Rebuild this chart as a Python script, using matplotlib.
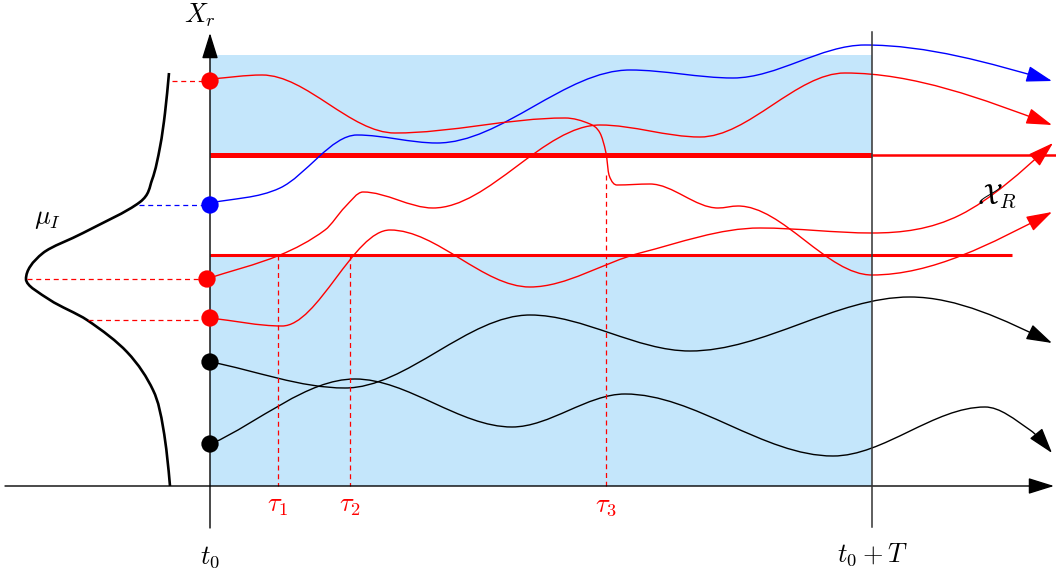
import numpy as np
import matplotlib
matplotlib.use("Agg")
import matplotlib.pyplot as plt
from matplotlib.path import Path
from matplotlib.patches import FancyArrowPatch, PathPatch

plt.rcParams['mathtext.fontset'] = 'cm'

# picture units: x = time axis (left to right), y = X_r axis (top to bottom, screen-like)
t0, t0_T = 210, 872
ground = 486
box_top = 55
band_hi, band_lo = 155, 255

RED, BLUE, BLACK = '#ff0000', '#0000ff', '#000000'
FILL = '#c4e6fb'

# trajectories: turning points (plus a few shape points) of each path
blue_t = [211, 280, 357, 437, 630, 733, 865, 1052]
blue_x = [203, 188, 135, 143, 70, 78, 45, 81]

red_a_t = [211, 262, 395, 565, 590, 600, 606, 609, 617, 650, 718, 738, 872, 1052]
red_a_x = [79, 75, 133, 118, 124, 133, 153, 175, 185, 184, 208, 206, 275, 212]

red_b_t = [206, 280, 325, 345, 363, 433, 600, 700, 845, 1052]
red_b_x = [279, 255, 230, 207, 192, 208, 125, 137, 73, 125]

red_c_t = [210, 282, 390, 530, 640, 760, 872, 960, 1053]
red_c_x = [318, 326, 230, 287, 253, 228, 233, 215, 143]

black_a_t = [211, 345, 530, 690, 910, 1052]
black_a_x = [362, 388, 315, 351, 297, 343]

black_b_t = [211, 355, 512, 625, 833, 985, 1030, 1052]
black_b_x = [444, 379, 427, 394, 456, 407, 430, 453]

# initial points on the X_r axis
start_x = [81, 205, 279, 318, 362, 444]
start_t = [210, 210, 207, 210, 210, 210]
start_col = [RED, BLUE, RED, RED, BLACK, BLACK]

# initial density mu_I, drawn sideways (width as a function of the level)
mu_y = [73, 113, 147, 180, 202, 233, 253, 279, 300, 320, 352, 390, 427, 486]
mu_x = [169, 165, 160, 152, 140, 83, 43, 26, 50, 87, 127, 153, 163, 170]

# dashed links density -> starting points
link_y = [81, 205, 279, 320]
link_from = [172, 139, 27, 88]
link_to = [210, 210, 207, 210]
link_col = [RED, BLUE, RED, RED]

# exit times
tau_t = [278, 350, 606]
tau_top = [255, 255, 175]
tau_lab = [r'$\tau_1$', r'$\tau_2$', r'$\tau_3$']


def smooth_path(ts, xs, swap=False):
    # cubic Hermite through the knots; flat at turning points
    t = np.asarray(ts, float)
    x = np.asarray(xs, float)
    n = len(t)
    m = np.zeros(n)
    for i in range(1, n - 1):
        if (x[i] - x[i - 1]) * (x[i + 1] - x[i]) <= 0:
            m[i] = 0.0
        else:
            m[i] = (x[i + 1] - x[i - 1]) / (t[i + 1] - t[i - 1])
    m[0] = (x[1] - x[0]) / (t[1] - t[0])
    sec = (x[-1] - x[-2]) / (t[-1] - t[-2])
    m[-1] = 1.5 * sec - 0.5 * m[-2] if n > 2 else sec
    pts = [(t[0], x[0])]
    codes = [Path.MOVETO]
    for i in range(n - 1):
        h = t[i + 1] - t[i]
        pts += [(t[i] + h / 3, x[i] + m[i] * h / 3),
                (t[i + 1] - h / 3, x[i + 1] - m[i + 1] * h / 3),
                (t[i + 1], x[i + 1])]
        codes += [Path.CURVE4] * 3
    pts = np.array(pts)
    if swap:
        pts = pts[:, ::-1]
    return Path(pts, codes)


fig = plt.figure(figsize=(10.56, 5.76), dpi=100)
ax = fig.add_axes([0, 0, 1, 1])
ax.set_xlim(0, 1056)
ax.set_ylim(576, 0)
ax.axis('off')

# shaded region (minus the band between the two levels)
ax.fill_between([t0, t0_T], box_top, band_hi, color=FILL, lw=0, zorder=0)
ax.fill_between([t0, t0_T], band_lo, ground, color=FILL, lw=0, zorder=0)

# levels
ax.plot([t0, t0_T], [band_hi, band_hi], color=RED, lw=3.6, solid_capstyle='butt', zorder=2)
ax.plot([t0_T, 1058], [band_hi, band_hi], color=RED, lw=1.8, solid_capstyle='butt', zorder=2)
ax.plot([t0, 1012], [band_lo, band_lo], color=RED, lw=2.2, solid_capstyle='butt', zorder=2)

arrow = '-|>,head_length=1.6,head_width=0.5'
curves = [(blue_t, blue_x, BLUE), (red_a_t, red_a_x, RED),
          (red_b_t, red_b_x, RED), (red_c_t, red_c_x, RED),
          (black_a_t, black_a_x, BLACK), (black_b_t, black_b_x, BLACK)]
for ts, xs, col in curves:
    ax.add_patch(FancyArrowPatch(path=smooth_path(ts, xs), arrowstyle=arrow,
                                 mutation_scale=10, color=col, lw=1.0, zorder=3))

# density
ax.add_patch(PathPatch(smooth_path(mu_y, mu_x, swap=True), fill=False,
                       color=BLACK, lw=1.9, zorder=3))

for y, a, b, c in zip(link_y, link_from, link_to, link_col):
    ax.plot([a, b], [y, y], color=c, lw=0.9, ls=(0, (4, 3)), zorder=3)

for t, top in zip(tau_t, tau_top):
    ax.plot([t, t], [top, ground], color=RED, lw=0.9, ls=(0, (4, 3)), zorder=3)

# axes
ax.add_patch(FancyArrowPatch((t0, 528), (t0, 33), arrowstyle=arrow, mutation_scale=10,
                             color=BLACK, lw=1.0, zorder=4, shrinkA=0, shrinkB=0))
ax.add_patch(FancyArrowPatch((5, ground), (1054, ground), arrowstyle=arrow, mutation_scale=10,
                             color=BLACK, lw=1.0, zorder=4, shrinkA=0, shrinkB=0))
ax.plot([t0_T, t0_T], [32, 527], color='#333333', lw=1.1, zorder=4)

ax.scatter(start_t, start_x, s=155, c=start_col, zorder=5, linewidths=0)

# labels
fs = 19
ax.text(200, 15, r'$X_r$', fontsize=fs, ha='center', va='center')
ax.text(t0, 557, r'$t_0$', fontsize=fs, ha='center', va='center')
ax.text(t0_T, 555, r'$t_0+T$', fontsize=fs, ha='center', va='center')
for t, lab in zip(tau_t, tau_lab):
    ax.text(t, 505, lab, fontsize=fs, ha='center', va='center', color=RED)
ax.text(48, 218, r'$\mu_I$', fontsize=fs, ha='center', va='center')
ax.text(997, 197, r'$\mathcal{X}_R$', fontsize=21, ha='center', va='center')

fig.savefig('out.png', dpi=100)
